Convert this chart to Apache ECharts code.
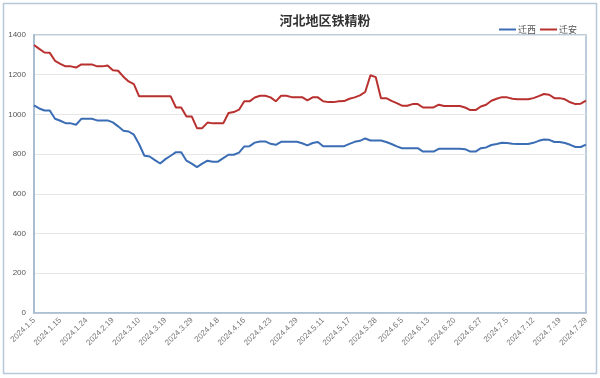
<!DOCTYPE html>
<html>
<head>
<meta charset="utf-8">
<script src="https://cdn.jsdelivr.net/npm/echarts@6/dist/echarts.min.js"></script>
<style>
  html, body { margin: 0; padding: 0; background: #fff; }
  #chart { width: 600px; height: 378px; }
</style>
</head>
<body>
<div id="chart"></div>
<script>
// 日期（每5个显示一个标签）
const dates = [
  '2024.1.5', '2024.1.8', '2024.1.9', '2024.1.10', '2024.1.12',
  '2024.1.15', '2024.1.17', '2024.1.19', '2024.1.22', '2024.1.23',
  '2024.1.24', '2024.1.26', '2024.1.30', '2024.2.2', '2024.2.6',
  '2024.2.19', '2024.2.23', '2024.2.28', '2024.3.4', '2024.3.7',
  '2024.3.10', '2024.3.12', '2024.3.14', '2024.3.15', '2024.3.18',
  '2024.3.19', '2024.3.21', '2024.3.22', '2024.3.26', '2024.3.27',
  '2024.3.29', '2024.4.1', '2024.4.2', '2024.4.3', '2024.4.7',
  '2024.4.8', '2024.4.10', '2024.4.11', '2024.4.12', '2024.4.15',
  '2024.4.16', '2024.4.17', '2024.4.18', '2024.4.19', '2024.4.22',
  '2024.4.23', '2024.4.24', '2024.4.25', '2024.4.26', '2024.4.28',
  '2024.4.29', '2024.4.30', '2024.5.6', '2024.5.8', '2024.5.9',
  '2024.5.11', '2024.5.13', '2024.5.14', '2024.5.15', '2024.5.16',
  '2024.5.17', '2024.5.20', '2024.5.22', '2024.5.24', '2024.5.27',
  '2024.5.28', '2024.5.30', '2024.5.31', '2024.6.3', '2024.6.4',
  '2024.6.5', '2024.6.6', '2024.6.7', '2024.6.11', '2024.6.12',
  '2024.6.13', '2024.6.14', '2024.6.17', '2024.6.18', '2024.6.19',
  '2024.6.20', '2024.6.21', '2024.6.24', '2024.6.25', '2024.6.26',
  '2024.6.27', '2024.6.28', '2024.7.1', '2024.7.2', '2024.7.3',
  '2024.7.5', '2024.7.8', '2024.7.9', '2024.7.10', '2024.7.11',
  '2024.7.12', '2024.7.15', '2024.7.16', '2024.7.17', '2024.7.18',
  '2024.7.19', '2024.7.22', '2024.7.24', '2024.7.25', '2024.7.26',
  '2024.7.29'
]

// 迁西
const qianxi = [
  1045, 1030, 1020, 1020, 978, 968, 956, 955, 948, 978,
  978, 978, 970, 970, 970, 960, 940, 918, 914, 898,
  850, 792, 788, 770, 753, 775, 792, 810, 810, 767,
  752, 735, 752, 767, 762, 762, 780, 797, 797, 808,
  839, 840, 858, 864, 864, 852, 847, 862, 862, 862,
  862, 855, 844, 856, 861, 840, 840, 840, 840, 840,
  852, 862, 867, 879, 869, 869, 869, 861, 851, 839,
  830, 830, 830, 830, 813, 813, 813, 827, 827, 827,
  827, 827, 825, 813, 813, 830, 834, 846, 851, 857,
  856, 852, 851, 851, 851, 857, 867, 874, 872, 861,
  861, 856, 847, 836, 836, 848
]

// 迁安
const qianan = [
  1350, 1330, 1312, 1310, 1270, 1255, 1242, 1242, 1236, 1252,
  1252, 1252, 1242, 1242, 1246, 1222, 1220, 1190, 1166, 1153,
  1091, 1091, 1091, 1091, 1091, 1091, 1091, 1035, 1035, 990,
  990, 931, 931, 959, 955, 955, 955, 1007, 1012, 1024,
  1066, 1066, 1085, 1094, 1094, 1086, 1066, 1094, 1094, 1087,
  1087, 1087, 1071, 1086, 1086, 1066, 1062, 1062, 1066, 1067,
  1079, 1086, 1096, 1113, 1197, 1188, 1082, 1082, 1068, 1057,
  1044, 1044, 1052, 1052, 1035, 1035, 1035, 1049, 1042, 1042,
  1042, 1042, 1035, 1022, 1022, 1040, 1049, 1069, 1079, 1087,
  1086, 1079, 1076, 1076, 1076, 1082, 1092, 1103, 1099, 1082,
  1082, 1076, 1061, 1052, 1054, 1069
]

const chart = echarts.init(document.getElementById('chart'), null, { renderer: 'canvas' })

chart.setOption({
  animation: false,
  backgroundColor: '#fff',
  title: {
    text: '河北地区铁精粉',
    left: 320,
    top: 9,
    textAlign: 'center',
    textStyle: { fontFamily: 'Noto Sans CJK SC', fontSize: 13, fontWeight: 'bold', color: '#333' },
  },
  legend: {
    right: 18,
    top: 20,
    itemWidth: 17,
    itemHeight: 2,
    itemGap: 4,
    icon: 'rect',
    textStyle: { fontFamily: 'Noto Sans CJK SC', fontSize: 9, color: '#555', padding: [0, 0, 0, -3] },
    data: ['迁西', '迁安'],
  },
  graphic: [
    {
      type: 'rect',
      shape: { x: 3.5, y: 3.5, width: 593, height: 370 },
      style: { fill: 'none', stroke: '#b7c8d9', lineWidth: 1.5 },
      silent: true,
    },
  ],
  grid: {
    left: 34,
    right: 14,
    top: 35,
    bottom: 65,
    show: true,
    borderColor: '#a9bdd1',
    borderWidth: 1.5,
  },
  xAxis: {
    type: 'category',
    data: dates,
    boundaryGap: false,
    axisLine: { lineStyle: { color: '#a9bdd1', width: 1.5 } },
    axisTick: { show: false },
    axisLabel: {
      interval: 4,
      rotate: 45,
      fontFamily: 'Liberation Sans',
      fontSize: 8,
      color: '#777',
      margin: 6,
    },
    splitLine: { show: false },
  },
  yAxis: {
    type: 'value',
    min: 0,
    max: 1400,
    interval: 200,
    axisLine: { show: true, lineStyle: { color: '#a9bdd1', width: 2 } },
    axisTick: { show: false },
    axisLabel: {
      fontFamily: 'Liberation Sans',
      fontSize: 8,
      color: '#555',
      margin: 8,
      formatter: (v) => String(v),
    },
    splitLine: { lineStyle: { color: '#e6e6e6', width: 1 } },
  },
  series: [
    {
      name: '迁西',
      type: 'line',
      data: qianxi,
      symbol: 'none',
      lineStyle: { color: '#3b6db5', width: 2 },
      itemStyle: { color: '#3b6db5' },
    },
    {
      name: '迁安',
      type: 'line',
      data: qianan,
      symbol: 'none',
      lineStyle: { color: '#b8312f', width: 2 },
      itemStyle: { color: '#b8312f' },
    },
  ],
})
</script>
</body>
</html>
